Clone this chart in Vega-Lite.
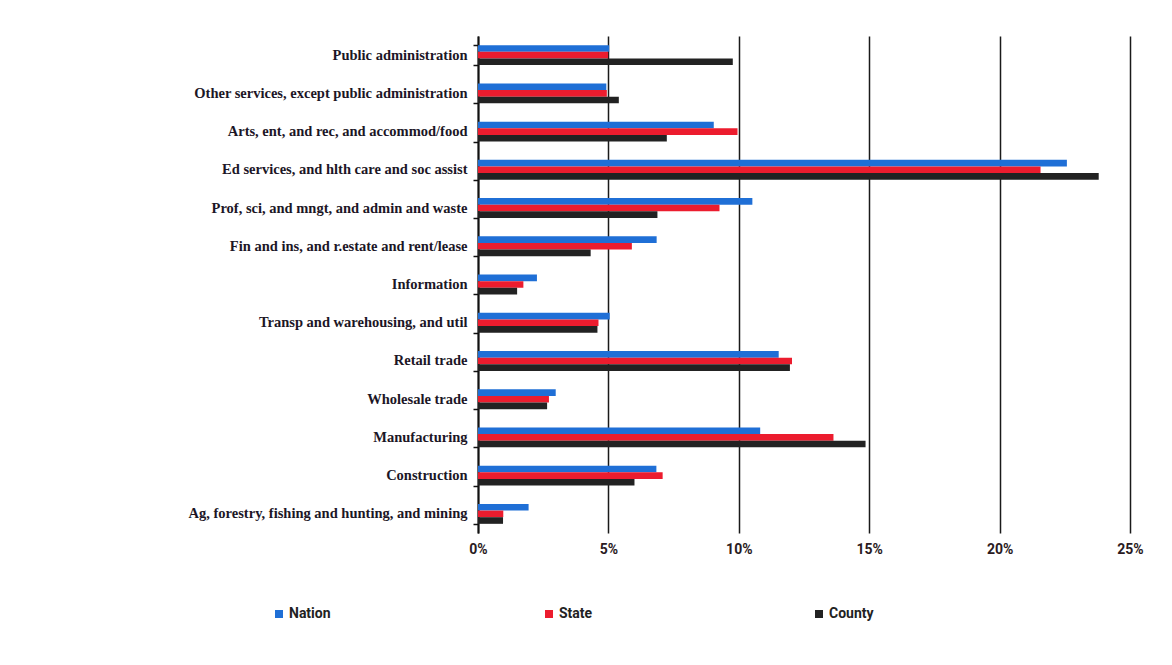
{
  "$schema": "https://vega.github.io/schema/vega-lite/v6.json",
  "width": 652,
  "height": 497,
  "autosize": {"type": "none"},
  "padding": {"left": 478, "top": 36, "right": 42, "bottom": 132},
  "background": "white",
  "config": {"view": {"stroke": null}},
  "data": {
    "values": [
      {"industry": "Public administration", "series": "Nation", "share": 0.0503},
      {"industry": "Public administration", "series": "State", "share": 0.0499},
      {"industry": "Public administration", "series": "County", "share": 0.0977},
      {"industry": "Other services, except public administration", "series": "Nation", "share": 0.0492},
      {"industry": "Other services, except public administration", "series": "State", "share": 0.0494},
      {"industry": "Other services, except public administration", "series": "County", "share": 0.054},
      {"industry": "Arts, ent, and rec, and accommod/food", "series": "Nation", "share": 0.0904},
      {"industry": "Arts, ent, and rec, and accommod/food", "series": "State", "share": 0.0995},
      {"industry": "Arts, ent, and rec, and accommod/food", "series": "County", "share": 0.0724},
      {"industry": "Ed services, and hlth care and soc assist", "series": "Nation", "share": 0.2258},
      {"industry": "Ed services, and hlth care and soc assist", "series": "State", "share": 0.2157},
      {"industry": "Ed services, and hlth care and soc assist", "series": "County", "share": 0.238},
      {"industry": "Prof, sci, and mngt, and admin and waste", "series": "Nation", "share": 0.1052},
      {"industry": "Prof, sci, and mngt, and admin and waste", "series": "State", "share": 0.0926},
      {"industry": "Prof, sci, and mngt, and admin and waste", "series": "County", "share": 0.0688},
      {"industry": "Fin and ins, and r.estate and rent/lease", "series": "Nation", "share": 0.0685},
      {"industry": "Fin and ins, and r.estate and rent/lease", "series": "State", "share": 0.059},
      {"industry": "Fin and ins, and r.estate and rent/lease", "series": "County", "share": 0.0432},
      {"industry": "Information", "series": "Nation", "share": 0.0226},
      {"industry": "Information", "series": "State", "share": 0.0174},
      {"industry": "Information", "series": "County", "share": 0.015},
      {"industry": "Transp and warehousing, and util", "series": "Nation", "share": 0.0505},
      {"industry": "Transp and warehousing, and util", "series": "State", "share": 0.0462},
      {"industry": "Transp and warehousing, and util", "series": "County", "share": 0.0458},
      {"industry": "Retail trade", "series": "Nation", "share": 0.1153},
      {"industry": "Retail trade", "series": "State", "share": 0.1204},
      {"industry": "Retail trade", "series": "County", "share": 0.1196},
      {"industry": "Wholesale trade", "series": "Nation", "share": 0.0298},
      {"industry": "Wholesale trade", "series": "State", "share": 0.0272},
      {"industry": "Wholesale trade", "series": "County", "share": 0.0265},
      {"industry": "Manufacturing", "series": "Nation", "share": 0.1082},
      {"industry": "Manufacturing", "series": "State", "share": 0.1363},
      {"industry": "Manufacturing", "series": "County", "share": 0.1486},
      {"industry": "Construction", "series": "Nation", "share": 0.0684},
      {"industry": "Construction", "series": "State", "share": 0.0708},
      {"industry": "Construction", "series": "County", "share": 0.06},
      {"industry": "Ag, forestry, fishing and hunting, and mining", "series": "Nation", "share": 0.0194},
      {"industry": "Ag, forestry, fishing and hunting, and mining", "series": "State", "share": 0.0097},
      {"industry": "Ag, forestry, fishing and hunting, and mining", "series": "County", "share": 0.0096}
    ]
  },
  "mark": {"type": "bar"},
  "encoding": {
    "y": {
      "field": "industry",
      "type": "nominal",
      "sort": null,
      "scale": {"paddingInner": 0.48, "paddingOuter": 0.24},
      "axis": {
        "title": null,
        "labelFont": "Liberation Serif",
        "labelFontWeight": "bold",
        "labelFontSize": 14.5,
        "labelColor": "#1c1626",
        "labelPadding": 6,
        "labelLimit": 400,
        "domainColor": "#111",
        "domainWidth": 2,
        "tickColor": "#111",
        "tickSize": 5,
        "tickBand": "extent",
        "tickWidth": 1.5
      }
    },
    "yOffset": {
      "field": "series",
      "type": "nominal",
      "scale": {"domain": ["Nation", "State", "County"]}
    },
    "x": {
      "field": "share",
      "type": "quantitative",
      "scale": {"domain": [0, 0.25], "nice": false},
      "axis": {
        "title": null,
        "format": ".0%",
        "values": [0, 0.05, 0.1, 0.15, 0.2, 0.25],
        "ticks": false,
        "domain": false,
        "grid": true,
        "gridColor": "#1a1a1a",
        "gridWidth": 1.5,
        "labelFlush": false,
        "labelFont": "Roboto",
        "labelFontWeight": "bold",
        "labelFontSize": 14,
        "labelColor": "#2a1a22",
        "labelPadding": 9
      }
    },
    "color": {
      "field": "series",
      "type": "nominal",
      "scale": {"domain": ["Nation", "State", "County"], "range": ["#1f6fd6", "#ec1c2e", "#222222"]},
      "legend": {
        "title": null,
        "orient": "none",
        "legendX": -206,
        "legendY": 571,
        "direction": "horizontal",
        "columns": 3,
        "gridAlign": "all",
        "columnPadding": 208,
        "symbolType": "square",
        "symbolSize": 64,
        "symbolOffset": 0,
        "labelOffset": 3,
        "labelFont": "Roboto",
        "labelFontWeight": "bold",
        "labelFontSize": 14,
        "labelColor": "#222"
      }
    }
  }
}
